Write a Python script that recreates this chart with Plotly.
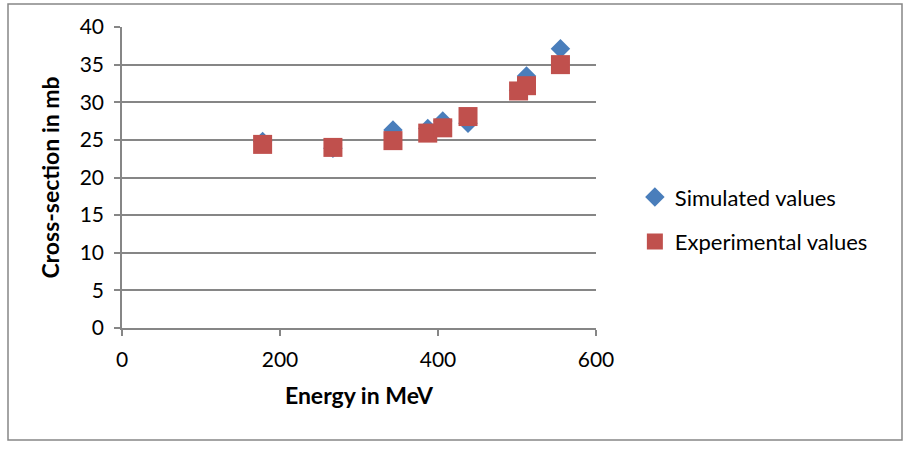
import plotly.graph_objects as go

energy = [178, 267, 343, 387, 406, 438, 502, 512, 555]
simulated = [24.8, 23.9, 26.3, 26.5, 27.5, 27.2, 31.6, 33.5, 37.1]
experimental = [24.4, 24.0, 24.9, 25.9, 26.6, 28.1, 31.5, 32.2, 35.0]

series_names = ["Simulated values", "Experimental values"]
x_ticks = [0, 200, 400, 600]
y_ticks = [0, 5, 10, 15, 20, 25, 30, 35, 40]

FONT = "Lato"
fig = go.Figure()
fig.add_trace(go.Scatter(x=energy, y=simulated, mode="markers", name=series_names[0],
                         legendgroup="a",
                         marker=dict(symbol="diamond", size=15, color="#4a7ebb")))
fig.add_trace(go.Scatter(x=energy, y=experimental, mode="markers", name=series_names[1],
                         legendgroup="b",
                         marker=dict(symbol="square", size=19, color="#c0504d")))

fig.update_layout(
    width=908, height=454,
    margin=dict(l=122, r=312, t=27, b=126),
    paper_bgcolor="white", plot_bgcolor="white",
    font=dict(family=FONT, size=20, color="#000000"),
    showlegend=True,
    legend=dict(x=1.082, y=0.36, xanchor="left", yanchor="middle",
                font=dict(family=FONT, size=22, color="#000000"),
                tracegroupgap=13, bgcolor="rgba(0,0,0,0)", itemwidth=30),
    xaxis=dict(range=[0, 600], tickvals=x_ticks, showgrid=False, zeroline=False,
               showline=True, linecolor="#868686", linewidth=1.5,
               ticks="outside", ticklen=6, tickcolor="#868686", tickwidth=1.5,
               ticklabelstandoff=6,
               tickfont=dict(family=FONT, size=21, color="#000000"),
               title=dict(text="<b>Energy in MeV</b>", standoff=18,
                          font=dict(family=FONT, size=23, color="#000000"))),
    yaxis=dict(range=[0, 40], tickvals=y_ticks, showgrid=True, gridcolor="#868686",
               gridwidth=1.5, zeroline=False,
               showline=True, linecolor="#868686", linewidth=1.5,
               ticks="outside", ticklen=6, tickcolor="#868686", tickwidth=1.5,
               ticklabelstandoff=6,
               tickfont=dict(family=FONT, size=21, color="#000000"),
               title=dict(text="<b>Cross-section in mb</b>", standoff=14,
                          font=dict(family=FONT, size=23, color="#000000"))),
)
fig.add_shape(type="rect", xref="paper", yref="paper",
              x0=-114/474, x1=(902-122)/474, y0=-(440-328)/301, y1=(328-4)/301,
              line=dict(color="#868686", width=1.5), layer="below")
fig.write_html("out.html")
